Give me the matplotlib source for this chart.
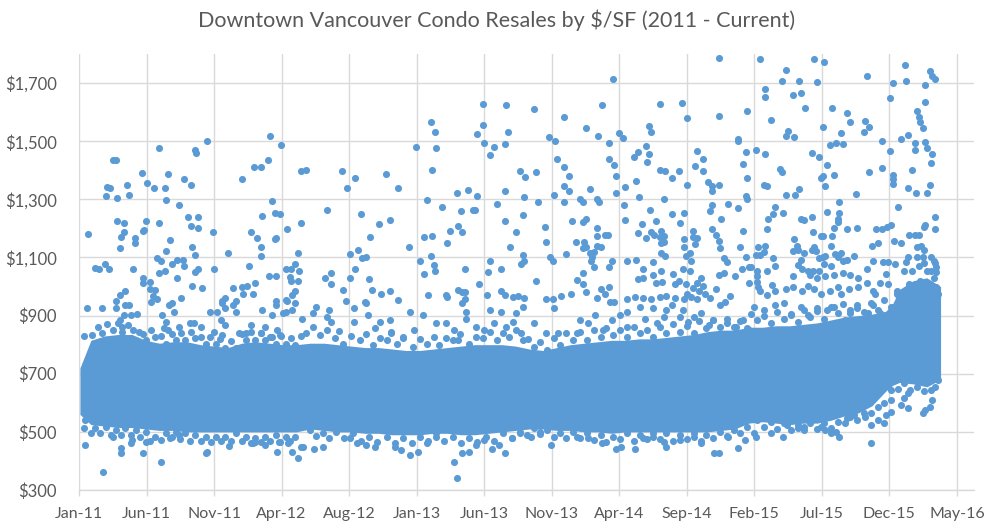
import matplotlib
matplotlib.use("Agg")
import matplotlib.pyplot as plt
import numpy as np

# ---------------- data (month = months since 1 Jan 2011, price = $/SF) ----------------
title = "Downtown Vancouver Condo Resales by $/SF (2011 - Current)"
x_tick_labels = ["Jan-11", "Jun-11", "Nov-11", "Apr-12", "Aug-12", "Jan-13", "Jun-13",
                 "Nov-13", "Apr-14", "Sep-14", "Feb-15", "Jul-15", "Dec-15", "May-16"]
y_ticks = [300, 500, 700, 900, 1100, 1300, 1500, 1700]

# dense core of sales, read as lower / upper edge per month
band_month = [0.2, 1, 2, 3, 4, 5, 6, 7, 8, 9, 10, 11, 12, 13, 14, 15, 16, 17, 18, 19, 20,
              21, 22, 23, 24, 25, 26, 27, 28, 29, 30, 31, 32, 33, 34, 35, 36, 37, 38, 39, 40,
              41, 42, 43, 44, 45, 46, 47, 48, 49, 50, 51, 52, 53, 54, 55, 56, 57, 58, 59,
              59.5, 60, 61, 62, 63]
band_low = [560, 525, 520, 515, 515, 510, 505, 505, 500, 500, 500, 500, 500, 500, 500, 500,
            500, 510, 505, 500, 500, 495, 495, 490, 490, 490, 495, 495, 490, 490, 495, 500,
            505, 510, 510, 505, 505, 500, 500, 495, 500, 500, 500, 500, 500, 500, 500, 505,
            510, 530, 535, 530, 525, 530, 530, 540, 555, 565, 590, 640, 660, 670, 665, 655, 680]
band_high = [720, 815, 830, 835, 835, 815, 805, 810, 810, 800, 795, 790, 805, 810, 805, 800,
             800, 805, 805, 800, 795, 790, 790, 785, 780, 780, 785, 790, 795, 800, 800, 800,
             795, 785, 780, 790, 800, 805, 810, 815, 815, 820, 820, 825, 830, 835, 845, 850,
             850, 860, 860, 865, 865, 870, 875, 885, 895, 900, 905, 915, 940, 990, 1020, 1030, 1000]

# individual sales above the core, 2011 - mid 2012
sales_high_a = [(0.8,1180),(1.3,1065),(1.6,1060),(2.0,1078),(2.3,1059),(2.1,1310),(2.2,1343),(2.4,1339),
    (2.6,1437),(2.8,1435),(2.9,1303),(3.6,1348),(3.8,1314),(4.7,1389),(6.0,1475),(5.1,1356),(5.6,1338),
    (6.4,1338),(6.6,1386),(6.5,1296),(7.4,1280),(7.8,1369),(8.3,1348),(8.6,1471),(8.7,1460),(9.5,1500),
    (2.9,1224),(3.4,1217),(3.2,1169),(3.4,1186),(3.1,1132),(4.2,1167),(4.2,1149),(4.8,1192),(4.9,1194),
    (5.0,1225),(6.0,1217),(6.8,1160),(6.5,1123),(5.8,1098),(6.1,1087),(8.1,1238),(8.3,1207),(8.8,1200),
    (8.8,1238),(9.9,1186),(8.4,1135),(8.6,1107),(7.3,1093),(7.7,1093),(6.9,1076),(7.8,1069),(8.8,1062),
    (8.6,1049),(6.0,1045),(6.4,1052),(4.1,1059),(4.8,1029),(4.8,1011),(5.3,1015),(7.3,1028),(8.4,1001),
    (9.1,994),(10.0,1062),(11.0,1114),(12.0,1369),(12.9,1412),(13.4,1412),(13.9,1434),(14.1,1517),
    (14.9,1486),(14.2,1293),(14.4,1252),(14.8,1248),(13.5,1241),(15.3,1197),(16.3,1217),(16.3,1399),
    (12.7,1186),(13.1,1166),(13.4,1135),(13.4,1104),(14.4,1162),(14.5,1166),(12.5,1069),(14.0,1035),
    (14.5,1035),(15.2,1062),(15.6,1059),(15.9,1076),(16.1,1117),(15.5,1032),(15.6,1018),(16.1,1018),
    (16.2,1054),(11.4,994),(12.0,997),(12.4,1001),(12.1,976),(12.8,976),(13.0,1011),(10.6,951),(10.8,959),
    (11.6,949),(14.5,951),(15.3,951),(15.9,986),(15.7,972),(2.8,951),(3.1,971),(3.5,983),(5.3,991),
    (5.7,988),(5.5,968),(5.8,957),(5.4,946),(6.9,942),(7.6,959)]

# individual sales above the core, mid 2012 - end 2013
sales_high_b = [(16.7,1401),(19.3,1396),(20.3,1372),(19.7,1338),(18.2,1265),(20.7,1248),(22.5,1387),
    (23.4,1338),(22.0,1214),(22.8,1229),(21.4,1169),(20.5,1124),(19.9,1111),(20.8,1098),(21.1,1101),
    (20.3,1062),(19.9,1031),(18.1,1028),(18.5,1045),(18.5,1007),(19.4,987),(19.6,949),(21.3,1025),
    (21.5,987),(22.2,973),(22.8,983),(23.4,952),(21.0,946),(24.2,1135),(24.7,1479),(25.0,1087),(25.3,1169),
    (25.9,1173),(25.5,1296),(25.8,1565),(26.1,1530),(26.2,1475),(25.9,1400),(26.6,1272),(25.8,1104),
    (26.0,1073),(26.1,1052),(25.3,1042),(25.6,970),(26.9,970),(27.0,963),(27.0,1149),(27.2,1190),
    (27.7,1321),(27.8,1207),(28.0,1259),(28.1,1186),(28.5,1331),(28.9,1265),(29.0,1265),(29.2,1310),
    (28.3,1059),(27.8,987),(28.1,980),(28.3,982),(28.3,956),(29.3,1007),(29.9,970),(30.0,1049),(30.1,1087),
    (29.6,1627),(31.3,1623),(29.6,1555),(29.2,1524),(29.7,1493),(30.4,1479),(30.1,1451),(31.2,1489),
    (31.4,1530),(30.6,1283),(31.2,1327),(31.2,1224),(30.9,1062),(31.6,1135),(32.0,1186),(32.3,1396),
    (32.7,1376),(32.6,1307),(32.5,1245),(32.5,1107),(32.4,1076),(32.6,1087),(30.9,983),(31.2,970),
    (31.8,963),(32.2,966),(32.6,959)]

# individual sales above the core, 2014 - early 2015
sales_high_c = [(33.3,1610),(33.5,1393),(34.4,1513),(34.9,1500),(35.5,1582),(35.0,1438),(35.5,1410),
    (35.9,1379),(35.5,1345),(35.9,1327),(34.8,1314),(35.5,1290),(33.6,1290),(34.1,1204),(34.2,1152),
    (34.5,1100),(34.7,1087),(33.5,1018),(34.2,956),(34.7,956),(35.3,966),(36.0,973),(35.7,1111),(36.1,1224),
    (36.7,1300),(36.9,1290),(37.4,1334),(37.1,1544),(38.3,1623),(38.0,1517),(39.1,1713),(38.8,1493),
    (39.5,1527),(39.8,1510),(38.8,1438),(39.2,1417),(39.3,1379),(39.3,1321),(37.9,1300),(38.1,1290),
    (36.9,1221),(37.1,1231),(37.9,1200),(37.9,1173),(38.5,1176),(38.7,1176),(36.4,1152),(37.0,1152),
    (37.1,1135),(36.9,1131),(37.4,1114),(37.7,1118),(37.6,1100),(37.9,1138),(38.2,1135),(37.5,1087),
    (37.7,1066),(38.8,1066),(39.0,1087),(36.9,1045),(36.5,1021),(36.9,1007),(37.1,980),(37.9,959),
    (38.2,990),(38.5,976),(38.8,997),(39.2,946),(38.9,946),(40.0,1341),(39.9,1282),(40.0,1228),(40.8,1362),
    (40.6,1444),(40.9,1462),(41.0,1307),(41.5,1482),(41.7,1455),(41.6,1427),(41.7,1551),(41.9,1530),
    (42.5,1627),(42.5,1400),(42.9,1396),(43.4,1372),(43.9,1396),(42.8,1300),(41.8,1265),(41.2,1214),
    (40.9,1183),(42.2,1224),(41.5,1166),(41.9,1186),(42.1,1179),(42.5,1169),(42.6,1190),(42.8,1173),
    (42.6,1149),(42.8,1152),(42.6,1114),(42.9,1104),(43.4,1248),(44.0,1217),(44.3,1252),(44.1,1630),
    (44.5,1579),(44.5,1348),(45.2,1465),(45.7,1438),(45.1,1413),(45.7,1396),(46.0,1358),(46.3,1345),
    (46.3,1327),(46.8,1351),(46.8,1785),(46.8,1585),(48.2,1500),(48.2,1506),(48.9,1603),(48.8,1462),
    (48.6,1420),(48.9,1372),(48.8,1310),(48.9,1300),(47.5,1283),(48.2,1269),(47.0,1231),(48.6,1190),
    (46.3,1279),(46.2,1259),(46.3,1197),(46.6,1179),(46.8,1155),(46.9,1131),(44.9,1190),(45.2,1166),
    (45.1,1145),(44.9,1169),(44.3,1162),(44.3,1135),(44.7,1114),(44.4,1104),(44.8,1087),(48.4,1135),
    (48.8,1100),(47.2,1097),(47.4,1083),(46.8,1038),(47.2,1045),(48.0,1035),(48.5,1059),(49.0,1066),
    (49.0,1011),(40.8,1093),(40.1,1087),(42.0,1083),(41.3,1059),(40.9,1025),(41.3,1028),(42.0,1038),
    (42.6,1052),(43.5,1042),(44.2,1059),(44.7,1055),(42.2,1011),(42.7,1014),(43.6,1007),(43.9,1018),
    (44.4,1007),(45.2,1011),(45.5,1031),(45.7,1001),(44.9,994),(45.4,983),(44.5,976),(45.8,976),(46.2,959),
    (46.6,990),(47.3,946),(47.6,966),(40.1,956),(40.7,963),(41.3,959),(41.9,956),(42.5,963),(43.0,966),
    (43.6,959),(44.3,956),(44.8,963),(45.2,956)]

# individual sales above the core, 2015 - 2016
sales_high_d = [(49.8,1782),(53.8,1782),(54.5,1771),(51.7,1744),(51.4,1706),(52.7,1706),(54.0,1702),
    (50.2,1678),(50.2,1651),(52.2,1658),(52.8,1665),(53.1,1613),(55.1,1613),(50.6,1572),(54.4,1548),
    (56.2,1596),(56.4,1565),(57.5,1568),(57.8,1548),(57.4,1530),(55.7,1527),(51.9,1534),(51.7,1517),
    (52.3,1513),(54.9,1486),(55.4,1493),(55.9,1489),(57.6,1723),(60.4,1761),(62.2,1740),(62.4,1723),
    (62.6,1713),(60.5,1706),(59.5,1699),(61.9,1692),(59.3,1648),(61.9,1634),(61.3,1603),(61.4,1582),
    (61.5,1565),(61.7,1544),(60.6,1520),(60.1,1506),(61.1,1493),(61.9,1496),(62.0,1476),(61.1,1469),
    (62.4,1455),(62.3,1424),(58.7,1500),(59.3,1465),(49.5,1469),(50.2,1455),(53.6,1458),(54.1,1444),
    (54.7,1417),(51.3,1403),(51.4,1393),(54.3,1372),(54.4,1379),(55.2,1383),(57.8,1393),(58.7,1407),
    (59.5,1383),(59.5,1369),(59.5,1352),(60.9,1400),(50.1,1348),(50.3,1345),(51.7,1314),(52.4,1314),
    (52.7,1334),(54.6,1345),(56.8,1317),(60.6,1338),(61.2,1321),(62.0,1321),(62.2,1348),(55.6,1290),
    (50.9,1272),(50.8,1248),(50.4,1231),(51.5,1252),(52.8,1231),(53.0,1228),(53.6,1238),(54.7,1255),
    (55.6,1252),(55.5,1231),(55.5,1221),(55.2,1200),(59.9,1272),(62.6,1238),(50.3,1197),(56.2,1197),
    (56.9,1200),(58.3,1197),(58.7,1197),(59.1,1204),(59.4,1210),(61.8,1204),(62.6,1197),(61.9,1210),
    (53.7,1186),(54.3,1173),(54.4,1173),(55.1,1173),(52.3,1162),(60.7,1176),(61.1,1179),(61.4,1179),
    (59.6,1155),(60.1,1149),(58.0,1138),(58.4,1149),(49.7,1135),(50.2,1138),(50.1,1118),(49.8,1107),
    (49.5,1107),(55.0,1138),(52.2,1121),(52.5,1138),(52.6,1124),(53.0,1114),(53.8,1135),(53.9,1121),
    (53.6,1124),(50.8,1097),(50.9,1069),(54.1,1097),(54.4,1100),(54.6,1104),(55.3,1111),(55.7,1114),
    (55.5,1100),(52.8,1093),(52.6,1073),(55.9,1087),(56.2,1093),(56.7,1104),(52.9,1062),(53.3,1052),
    (53.7,1052),(54.1,1055),(54.5,1076),(55.0,1069),(49.2,1066),(49.6,1055),(50.3,1052),(57.6,1062),
    (58.1,1087),(58.8,1083),(59.2,1083),(59.7,1076),(60.3,1052),(60.9,1055),(60.6,1100),(60.5,1083),
    (62.5,1087),(62.7,1066),(62.3,1052),(52.2,1035),(53.5,1038),(54.0,1031),(54.6,1035),(55.2,1038),
    (55.9,1045),(56.4,1038),(57.0,1031),(49.6,1035),(49.6,1014),(49.7,997),(49.8,983),(50.3,970),
    (50.7,1004),(50.9,983),(51.7,990),(52.2,997),(52.9,983),(53.3,1001),(53.8,990),(54.3,976),(54.9,983),
    (55.5,997),(55.7,976),(56.3,990),(57.0,997),(57.6,1011),(58.1,983),(59.0,1042),(58.6,1011),(58.2,976),
    (59.2,1007),(59.8,983),(61.3,1137),(61.6,1141),(61.8,1124),(61.3,1100),(61.7,1100),(61.4,1069),
    (61.8,1080),(62.3,1100),(62.6,1080),(62.7,1049),(62.5,1031),(62.2,1009),(62.7,997),(62.8,974),
    (62.5,957),(61.8,951),(61.1,997),(60.7,1009),(60.3,980),(60.0,963),(61.2,972),(61.5,1020),(62.0,1055)]

# sales just above the core ($800 - $950)
sales_upper_fringe = [(2.8,925),(3.5,936),(3.8,936),(3.4,902),(3.9,902),(4.4,905),(3.1,885),(3.3,862),
    (6.2,902),(6.5,879),(6.3,856),(6.6,850),(6.7,936),(7.1,913),(7.4,862),(8.2,873),(9.0,862),(8.5,873),
    (9.7,913),(10.2,913),(10.6,942),(10.8,925),(11.4,936),(11.6,913),(10.5,885),(10.8,868),(10.0,845),
    (10.6,833),(11.8,839),(12.3,839),(12.7,868),(13.5,919),(14.2,902),(14.6,850),(15.0,908),(15.2,913),
    (15.7,919),(14.8,833),(13.7,862),(14.5,936),(15.2,954),(15.9,942),(16.4,890),(13.4,839),(14.2,827),
    (0.7,925),(1.8,925),(0.5,830),
    (17.2,908),(17.4,931),(18.4,919),(18.5,879),(18.2,896),(20.2,925),(21.1,942),(21.2,902),(20.2,879),
    (21.7,856),(22.1,879),(22.8,885),(22.9,845),(23.8,822),(24.3,913),(24.6,850),(25.2,902),(26.2,873),
    (26.9,873),(27.5,850),(27.8,816),(28.1,942),(28.4,913),(28.4,890),(29.1,862),(29.7,850),(30.1,919),
    (30.4,873),(30.9,913),(31.3,862),(31.8,879),(32.0,908),(32.4,839),(32.5,931),
    (33.3,873),(34.2,839),(34.8,925),(35.1,839),(36.5,839),(36.7,885),(37.3,873),(37.8,902),(38.4,850),
    (39.0,885),(39.6,902),(40.1,913),(40.1,862),(41.1,931),(41.4,890),(42.0,925),(42.3,873),(42.8,896),
    (43.0,919),(43.4,936),(44.0,896),(44.2,919),(44.6,879),(45.0,896),(45.5,908),(46.1,868),(46.4,885),
    (46.9,936),(47.4,873),(48.1,862),(48.6,885),(49.0,850),
    (49.4,931),(50.1,919),(50.9,936),(51.6,942),(52.1,902),(52.8,931),(53.3,902),(54.0,925),(54.7,919),
    (55.2,931),(56.0,885),(56.4,908),(56.9,925),(57.7,908),(58.1,936),(58.6,908),(59.1,885),(59.6,931),
    (59.8,896)]

# sales on the ragged upper edge of the core
sales_upper_edge = [(1.1,833),(1.8,839),(2.6,850),(3.3,845),(4.1,850),(4.5,845),(5.0,816),(5.7,827),
    (6.5,804),(7.2,816),(7.9,816),(8.6,822),(9.4,804),(10.1,804),(10.8,787),(11.6,787),(12.3,816),
    (13.0,816),(13.7,816),(14.5,804),(15.2,804),(15.9,799),
    (16.7,839),(17.7,833),(18.8,822),(19.4,804),(20.6,816),(21.6,799),(22.6,816),(23.3,804),(24.5,793),
    (25.5,804),(26.4,799),(27.4,816),(28.6,804),(29.6,822),(30.6,816),(31.5,827),(32.5,816),
    (33.3,793),(34.3,782),(35.2,799),(36.2,816),(37.2,816),(38.2,827),(39.1,833),(40.1,827),(41.1,839),
    (42.0,827),(43.0,839),(44.0,845),(45.0,839),(45.9,856),(46.9,862),(47.9,862),(48.9,856),
    (49.6,885),(50.6,873),(51.6,890),(52.6,879),(53.5,896),(54.5,890),(55.5,908),(56.4,919),(57.4,913),
    (58.4,919),(59.4,931),(60.3,954),
    (1.5,860),(2.2,870),(3.0,875),(3.7,868),(4.8,835),(5.4,850),(6.1,830),(6.9,838),(7.6,840),(8.3,845),
    (9.0,828),(9.7,826),(10.4,820),(11.2,812),(12.0,836),(12.7,842),(13.4,840),(14.1,826),(14.9,830),
    (15.6,822),(16.3,830),
    (17.2,860),(18.2,852),(19.1,846),(20.0,830),(21.1,838),(22.1,824),(22.9,840),(23.8,826),(25.0,818),
    (26.0,828),(26.9,822),(27.9,838),(29.1,828),(30.1,845),(31.1,840),(32.0,850),
    (32.9,818),(33.8,808),(34.8,822),(35.7,840),(36.7,842),(37.7,850),(38.6,856),(39.6,852),(40.6,862),
    (41.6,850),(42.5,862),(43.5,870),(44.5,864),(45.4,880),(46.4,886),(47.4,888),(48.4,880),
    (49.2,905),(50.1,898),(51.1,912),(52.1,904),(53.0,918),(54.0,915),(55.0,930),(55.9,940),(56.9,938),
    (57.9,942),(58.9,955),(59.8,975)]

# sales on the ragged lower edge of the core
sales_lower_edge = [(0.6,541),(1.3,512),(2.1,518),(2.8,506),(3.5,512),(4.3,506),(5.0,500),(5.7,483),
    (6.5,495),(7.2,500),(7.9,495),(8.6,489),(9.4,483),(10.1,483),(10.8,483),(11.6,495),(12.3,483),
    (13.0,478),(13.7,483),(14.5,489),(15.2,483),(15.9,483),
    (17.0,506),(17.9,495),(18.9,500),(20.1,495),(21.3,483),(22.6,483),(23.8,478),(25.0,483),(26.2,495),
    (27.4,483),(28.6,478),(29.8,483),(31.1,495),(32.3,500),
    (33.3,512),(34.3,506),(35.2,495),(36.2,500),(37.2,495),(38.2,489),(39.1,483),(40.1,495),(41.1,489),
    (42.0,495),(43.0,495),(44.0,489),(45.0,495),(45.9,489),(46.9,500),(47.9,506),(48.9,518),
    (49.6,541),(50.6,535),(51.6,529),(52.6,523),(53.5,529),(54.5,529),(55.5,535),(56.4,552),(57.4,564),
    (58.4,587),(59.4,644),(60.3,667),(61.3,655),(62.3,644),(62.8,678),
    (1.0,495),(1.7,495),(2.5,488),(3.2,490),(3.9,488),(4.6,482),(5.3,470),(6.1,472),(6.8,478),(7.5,475),
    (8.2,470),(9.0,468),(9.8,466),(10.5,470),(11.2,468),(12.0,470),(12.7,462),(13.4,466),(14.1,470),
    (14.8,465),(15.5,468),
    (17.4,485),(18.4,478),(19.5,480),(20.7,470),(21.9,465),(23.2,462),(24.4,463),(25.6,470),(26.8,468),
    (28.0,462),(29.2,465),(30.4,470),(31.7,478),(32.8,488),
    (33.8,492),(34.8,482),(35.7,480),(36.7,478),(37.7,472),(38.6,466),(39.6,475),(40.6,470),(41.6,474),
    (42.5,476),(43.5,470),(44.5,476),(45.5,470),(46.4,480),(47.4,486),(48.4,495),
    (50.1,518),(51.1,510),(52.1,505),(53.0,508),(54.0,510),(55.0,515),(56.0,530),(56.9,540),(57.9,565),
    (58.9,600),(59.9,648),(60.8,645),(61.8,640),(62.6,655)]

# individual sales below the core
sales_low = [(0.5,512),(0.6,455),(1.9,363),(2.6,483),(3.2,443),(3.2,426),(3.9,460),(4.0,472),(4.8,426),
    (5.0,466),(6.1,395),(6.9,483),(7.4,489),(9.5,432),(9.4,426),(11.1,451),(12.8,460),(13.0,466),
    (13.7,455),(14.6,432),(14.7,466),(15.7,432),(16.1,409),(16.3,449),(15.4,460),
    (16.5,449),(17.3,440),(17.9,449),(19.9,478),(20.4,460),(21.1,455),(21.7,449),(23.2,449),(23.6,437),
    (24.3,420),(24.9,432),(25.5,460),(26.2,483),(27.5,395),(27.7,343),(28.1,426),(28.6,432),(29.1,455),
    (29.7,472),(30.3,440),(30.8,455),(31.2,429),(31.7,478),(32.3,495),
    (33.1,483),(33.8,500),(34.6,455),(36.5,483),(37.3,478),(38.3,460),(39.3,440),(39.7,449),(40.7,440),
    (41.3,478),(42.0,483),(42.8,466),(43.0,449),(44.0,472),(45.0,483),(45.5,460),(46.5,426),(46.8,426),
    (47.5,483),(48.2,443),(48.7,472),
    (49.4,495),(49.5,483),(50.6,495),(51.5,483),(51.8,523),(52.6,512),(53.0,518),(54.3,518),(54.6,506),
    (55.0,495),(55.6,483),(55.4,500),(56.2,546),(56.7,558),(57.5,552),(57.9,523),(57.9,460),(58.4,541),
    (58.9,529),(59.0,558),(59.4,569),(59.4,609),(60.1,592),(60.6,581),(60.3,615),(60.6,632),(61.7,564),
    (61.9,575),(62.2,587),(62.4,609)]

# ---------------- drawing ----------------
DAYS_PER_MONTH = 30.44
AXIS_START_DAY = 4          # axis begins early January 2011
TICK_STEP_DAYS = 150        # Excel date axis major unit
BLUE = "#5b9bd5"
GRID = "#d9d9d9"
TEXT = "#595959"

fig = plt.figure(figsize=(9.94, 5.28), dpi=100)
ax = fig.add_axes([79 / 994, 38 / 528, 895 / 994, 436 / 528])

bm = np.array(band_month) * DAYS_PER_MONTH
ax.fill_between(bm, band_low, band_high, color=BLUE, linewidth=0, zorder=2)

all_points = (sales_high_a + sales_high_b + sales_high_c + sales_high_d +
              sales_upper_fringe + sales_upper_edge + sales_lower_edge + sales_low)
months = np.array([p[0] for p in all_points])
prices = np.array([p[1] for p in all_points])
ax.scatter(months * DAYS_PER_MONTH, prices, s=26, color=BLUE, linewidths=0, zorder=3)

xt = [AXIS_START_DAY + TICK_STEP_DAYS * i for i in range(len(x_tick_labels))]
ax.set_xlim(AXIS_START_DAY, AXIS_START_DAY + 1988)
ax.set_ylim(300, 1800)
ax.set_xticks(xt)
ax.set_xticklabels(x_tick_labels)
ax.set_yticks(y_ticks)
ax.set_yticklabels(["${:,}".format(v) for v in y_ticks])

ax.grid(True, color=GRID, linewidth=1.0, zorder=0)
ax.set_axisbelow(True)
for s in ["top", "right", "left"]:
    ax.spines[s].set_visible(False)
ax.spines["bottom"].set_color(GRID)
ax.spines["bottom"].set_linewidth(1.0)

ax.tick_params(axis="x", length=4, width=1.0, color=GRID, pad=8, labelsize=11.5, labelcolor=TEXT)
ax.tick_params(axis="y", length=0, pad=16, labelsize=12, labelcolor=TEXT)
for lab in ax.get_xticklabels() + ax.get_yticklabels():
    lab.set_family("Lato")

fig.text(0.5, 1 - 20 / 528, title, ha="center", va="center", fontsize=15.5,
         color=TEXT, family="Lato")

fig.savefig("out.png", dpi=100)
